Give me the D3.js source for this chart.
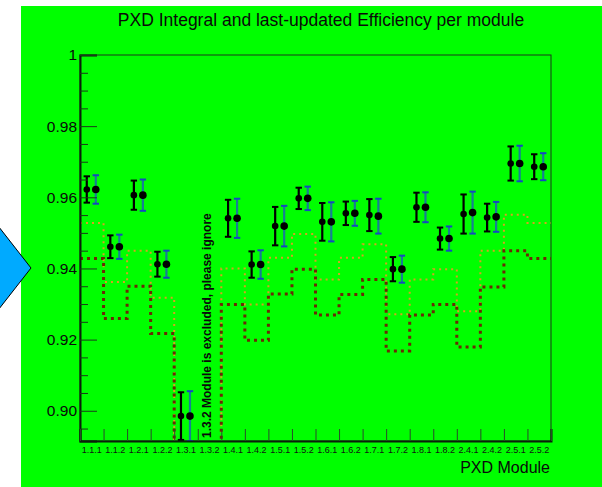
<!DOCTYPE html>
<html>
<head>
<meta charset="utf-8">
<script src="https://cdn.jsdelivr.net/npm/d3@7"></script>
<style>
  html, body { margin: 0; padding: 0; background: #ffffff; }
  svg { display: block; font-family: "Liberation Sans", Arial, Helvetica, sans-serif; }
</style>
</head>
<body>
<svg id="chart" width="602" height="487"></svg>
<script>
// ---- data ----
const modules = ["1.1.1","1.1.2","1.2.1","1.2.2","1.3.1","1.3.2","1.4.1","1.4.2","1.5.1","1.5.2",
                 "1.6.1","1.6.2","1.7.1","1.7.2","1.8.1","1.8.2","2.4.1","2.4.2","2.5.1","2.5.2"];
const integralEff = [0.9622,0.9461,0.9606,0.9412,0.8985,null,0.9541,0.9411,0.9519,0.9597,
                     0.9531,0.9555,0.9550,0.9398,0.9572,0.9484,0.9553,0.9543,0.9695,0.9686];
const integralErr = [0.0037,0.0032,0.0041,0.0035,0.0067,null,0.0052,0.0037,0.0054,0.0030,
                     0.0053,0.0033,0.0045,0.0034,0.0041,0.0031,0.0055,0.0039,0.0048,0.0035];
const lastEff     = [0.9622,0.9461,0.9606,0.9412,0.8985,null,0.9541,0.9411,0.9519,0.9597,
                     0.9531,0.9555,0.9547,0.9398,0.9572,0.9484,0.9557,0.9545,0.9695,0.9686];
const lastErr     = [0.0040,0.0034,0.0044,0.0038,0.0070,null,0.0055,0.0040,0.0057,0.0033,
                     0.0055,0.0035,0.0049,0.0038,0.0042,0.0034,0.0059,0.0042,0.0050,0.0038];
const lowerLimit  = [0.9428,0.9259,0.9350,0.9217,0,0,0.9299,0.9198,0.9328,0.9398,
                     0.9269,0.9327,0.9369,0.9168,0.9269,0.9299,0.9179,0.9348,0.9450,0.9428];
const upperLimit  = [0.9528,0.9362,0.9450,0.9318,0,0,0.9400,0.9299,0.9430,0.9497,
                     0.9369,0.9430,0.9468,0.9271,0.9369,0.9398,0.9280,0.9450,0.9551,0.9528];
const yMajorTicks = [0.90,0.92,0.94,0.96,0.98,1.00];
const yDomain = [0.8915, 1.0];
const titleText = "PXD Integral and last-updated Efficiency per module";
const xTitleText = "PXD Module";
const noteText = "1.3.2 Module is excluded, please ignore";

// ---- layout ----
const svg = d3.select("#chart");
const W = 602, H = 487;
const fx0 = 80, fx1 = 551, fy0 = 55, fy1 = 441;

// background
svg.append("rect").attr("x", 21).attr("y", 6).attr("width", W - 21).attr("height", H - 6).attr("fill", "#00ff00");

const x = d3.scaleBand().domain(modules).range([fx0, fx1]).paddingInner(0).paddingOuter(0);
const xi = d3.scaleLinear().domain([0, modules.length]).range([fx0, fx1]);
const y = d3.scaleLinear().domain(yDomain).range([fy1, fy0]);

svg.append("defs").append("clipPath").attr("id", "frameClip")
  .append("rect").attr("x", fx0).attr("y", fy0).attr("width", fx1 - fx0).attr("height", fy1 - fy0);

// frame
svg.append("rect").attr("x", fx0).attr("y", fy0).attr("width", fx1 - fx0).attr("height", fy1 - fy0)
  .attr("fill", "none").attr("stroke", "#1a3a1a").attr("stroke-width", 1);

// step lines
const stepLine = d3.line().x(d => xi(d[0])).y(d => y(d[1])).curve(d3.curveStepAfter);
function stepPts(arr) {
  const p = arr.map((v, i) => [i, v]);
  p.push([arr.length, arr[arr.length - 1]]);
  return p;
}
const plot = svg.append("g").attr("clip-path", "url(#frameClip)");
plot.append("path").attr("d", stepLine(stepPts(upperLimit)))
  .attr("fill", "none").attr("stroke", "#d8a020").attr("stroke-width", 2).attr("stroke-dasharray", "2 4");
plot.append("path").attr("d", stepLine(stepPts(lowerLimit)))
  .attr("fill", "none").attr("stroke", "#6a2a05").attr("stroke-width", 3).attr("stroke-dasharray", "3 4");

// error bar series
function drawSeries(vals, errs, dx, lineCol, capCol, r) {
  const g = plot.append("g");
  vals.forEach((v, i) => {
    if (v === null) return;
    const cx = x(modules[i]) + x.bandwidth() / 2 + dx;
    const e = errs[i];
    g.append("line").attr("x1", cx).attr("x2", cx).attr("y1", y(v + e)).attr("y2", y(v - e))
      .attr("stroke", lineCol).attr("stroke-width", 2.2);
    [v + e, v - e].forEach(t => {
      g.append("line").attr("x1", cx - 3.2).attr("x2", cx + 3.2).attr("y1", y(t)).attr("y2", y(t))
        .attr("stroke", capCol).attr("stroke-width", 2);
    });
    g.append("circle").attr("cx", cx).attr("cy", y(v)).attr("r", r).attr("fill", "#000");
  });
}
drawSeries(integralEff, integralErr, -5, "#000", "#000", 3.3);
drawSeries(lastEff, lastErr, 4, "#177f95", "#1548c0", 3.8);

// y axis
const fmt = d => d === 1 ? "1" : d3.format(".2f")(d);
const yAx = svg.append("g").attr("transform", `translate(${fx0},0)`)
  .call(d3.axisLeft(y).tickValues(yMajorTicks).tickFormat(fmt).tickSize(-17).tickPadding(3));
const minorVals = d3.range(0, 22).map(k => +(0.895 + k * 0.005).toFixed(3))
  .filter(v => v >= yDomain[0] && v <= 1 && !yMajorTicks.some(m => Math.abs(m - v) < 1e-6));
svg.append("g").attr("transform", `translate(${fx0},0)`)
  .call(d3.axisLeft(y).tickValues(minorVals).tickFormat("").tickSize(-8))
  .call(g => g.select(".domain").remove());
yAx.selectAll("text").attr("font-size", 15.5).attr("fill", "#0a0a0a")
  .attr("font-family", "Liberation Sans, Arial, sans-serif");
svg.selectAll(".tick line").attr("stroke", "#1a3a1a");
yAx.select(".domain").attr("stroke", "#0a200a").attr("stroke-width", 2);

// x axis ticks at bin edges
svg.append("g").attr("transform", `translate(0,${fy1})`)
  .call(d3.axisBottom(xi).tickValues(d3.range(0, modules.length + 1)).tickFormat("").tickSize(-12))
  .call(g => g.select(".domain").attr("stroke", "#0a200a").attr("stroke-width", 2))
  .call(g => g.selectAll(".tick line").attr("stroke", "#2a4a2a"));
// x labels
const xLab = svg.append("g").attr("transform", `translate(0,${fy1})`)
  .call(d3.axisBottom(x).tickSize(0).tickPadding(6));
xLab.select(".domain").remove();
xLab.selectAll("text").attr("font-size", 9).attr("fill", "#111")
  .attr("font-family", "Liberation Sans, Arial, sans-serif");

// titles
svg.append("text").attr("x", 321).attr("y", 26).attr("text-anchor", "middle")
  .attr("font-size", 17.5).attr("fill", "#0a0a0a").text(titleText);
svg.append("text").attr("x", 550).attr("y", 473).attr("text-anchor", "end")
  .attr("font-size", 16).attr("fill", "#0a0a0a").text(xTitleText);

// vertical note
const noteX = x("1.3.2") + x.bandwidth() / 2 + 1;
svg.append("text").attr("transform", `translate(${noteX},438) rotate(-90)`)
  .attr("text-anchor", "start").attr("font-size", 12).attr("font-weight", "bold")
  .attr("fill", "#0a0a0a").text(noteText);

// blue arrow marker on the left
svg.append("polygon").attr("points", "-12,213 31,268 -12,323")
  .attr("fill", "#00aaff").attr("stroke", "#000").attr("stroke-width", 1);
</script>
</body>
</html>
